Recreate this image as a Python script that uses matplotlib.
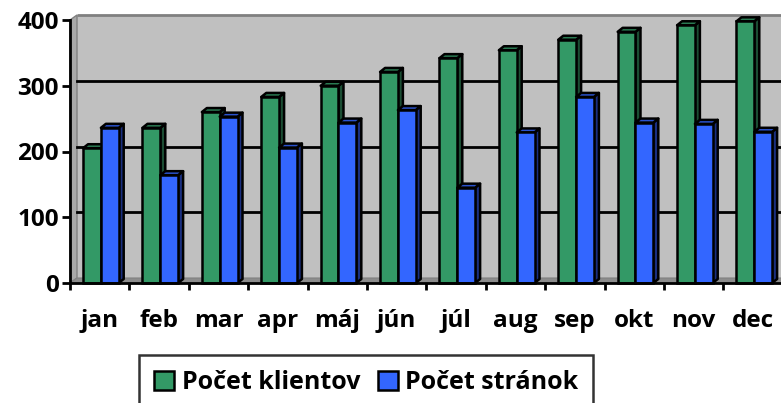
import matplotlib
matplotlib.use("Agg")
import matplotlib.pyplot as plt
from matplotlib.patches import Polygon, Rectangle, Patch
import numpy as np

months = ["jan", "feb", "mar", "apr", "máj", "jún", "júl", "aug", "sep", "okt", "nov", "dec"]
klienti = [205, 236, 260, 283, 300, 321, 342, 354, 370, 382, 392, 398]
stranky = [236, 164, 253, 206, 244, 263, 145, 229, 283, 244, 242, 230]
yticks = [0, 100, 200, 300, 400]
series_names = ["Počet klientov", "Počet stránok"]

plt.rcParams['font.family'] = ['Open Sans', 'DejaVu Sans']
plt.rcParams['font.weight'] = 'bold'
FS = 17.5

W, H = 781, 403
fig = plt.figure(figsize=(W / 100, H / 100), dpi=100)
ax_l, ax_r, ax_t, ax_b = 70, 782.8, 20, 283
ax = fig.add_axes([ax_l / W, (H - ax_b) / H, (ax_r - ax_l) / W, (ax_b - ax_t) / H])
n = len(months)
x = np.arange(n)
ax.set_xlim(-0.5, n - 0.5)
ax.set_ylim(0, 400)
ax.patch.set_visible(False)

# pixel -> data conversions
px_x = (n) / (ax_r - ax_l)
px_y = 400 / (ax_b - ax_t)
wall_dx, wall_dy = 7 * px_x, 5 * px_y
bar_dx, bar_dy = 5 * px_x, 4 * px_y

x0, x1 = -0.5, n - 0.5
# back wall
ax.add_patch(Rectangle((x0 + wall_dx, wall_dy), x1 - x0, 400, facecolor="#C0C0C0",
                       edgecolor="none", zorder=0, clip_on=False))
ax.plot([x0 + wall_dx, x1 + wall_dx], [400 + wall_dy, 400 + wall_dy], color="#808080",
        lw=2, zorder=0.5, clip_on=False, solid_capstyle="butt")
# side wall
ax.add_patch(Polygon([(x0, 0), (x0 + wall_dx, wall_dy), (x0 + wall_dx, 400 + wall_dy), (x0, 400)],
                     closed=True, facecolor="#A8A8A8", edgecolor="#808080", lw=1.0,
                     zorder=0.6, clip_on=False))
# floor
ax.add_patch(Polygon([(x0, 0), (x1, 0), (x1 + wall_dx, wall_dy), (x0 + wall_dx, wall_dy)],
                     closed=True, facecolor="#8C8C8C", edgecolor="#808080", lw=0.8,
                     zorder=0.6, clip_on=False))
# gridlines on back wall
for t in yticks[1:-1]:
    ax.plot([x0 + wall_dx, x1 + wall_dx], [t + wall_dy, t + wall_dy], color="black",
            lw=2, zorder=0.7, clip_on=False)

bw = 0.30
colors = [("#339966", "#2A7A52", "#1B4D33"), ("#3366FF", "#2A52CC", "#1A2F80")]
z = 2
for i in range(n):
    for s, vals in enumerate([klienti, stranky]):
        v = vals[i]
        xc = x[i] + (s - 0.5) * bw + 0.02
        front, top, side = colors[s]
        xl, xr = xc - bw / 2, xc + bw / 2
        ax.add_patch(Polygon([(xr, 0), (xr + bar_dx, bar_dy), (xr + bar_dx, v + bar_dy), (xr, v)],
                             closed=True, facecolor=side, edgecolor="black", lw=1.8,
                             zorder=z, clip_on=False, joinstyle="round"))
        ax.add_patch(Polygon([(xl, v), (xr, v), (xr + bar_dx, v + bar_dy), (xl + bar_dx, v + bar_dy)],
                             closed=True, facecolor=top, edgecolor="black", lw=1.8,
                             zorder=z, clip_on=False, joinstyle="round"))
        ax.bar(xc, v, width=bw, color=front, edgecolor="black", linewidth=1.8,
               zorder=z + 0.5, clip_on=False)
        z += 1

for sp in ["top", "right"]:
    ax.spines[sp].set_visible(False)
for sp in ["left", "bottom"]:
    ax.spines[sp].set_linewidth(2)
    ax.spines[sp].set_zorder(100)

ax.set_yticks(yticks)
ax.set_yticklabels([str(t) for t in yticks])
ax.set_xticks(x)
ax.set_xticklabels(months)
ax.set_xticks(np.arange(-0.5, n, 1.0), minor=True)
ax.tick_params(axis="x", which="major", length=0, pad=19, labelsize=FS)
ax.tick_params(axis="x", which="minor", length=5, width=2, direction="out")
ax.tick_params(axis="y", which="major", length=6, width=2, direction="out", pad=2, labelsize=FS)
for lbl in ax.get_xticklabels() + ax.get_yticklabels():
    lbl.set_fontweight("bold")

handles = [Patch(facecolor=colors[0][0], edgecolor="black", lw=1.8),
           Patch(facecolor=colors[1][0], edgecolor="black", lw=1.8)]
leg = fig.legend(handles, series_names, loc="upper left",
                 bbox_to_anchor=(139 / W, (H - 355) / H), ncol=2, frameon=True,
                 fancybox=False, edgecolor="black", borderpad=0.6,
                 handlelength=0.8, handleheight=0.8, handletextpad=0.3, columnspacing=0.7,
                 prop={"weight": "bold", "size": 18}, borderaxespad=0)
leg.get_frame().set_linewidth(1.8)

fig.savefig("out.png", dpi=100)
